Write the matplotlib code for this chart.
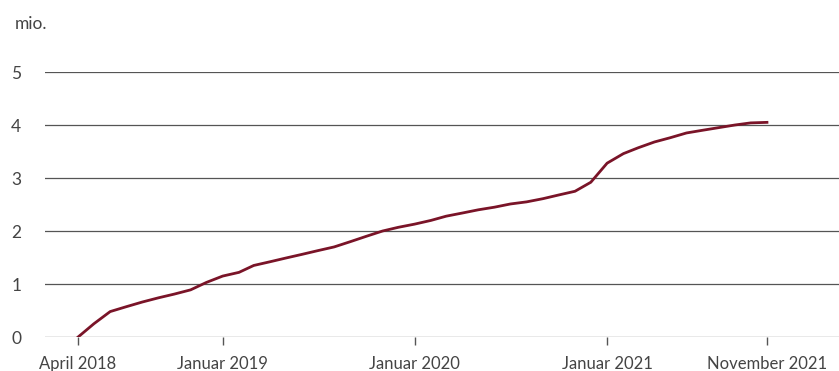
import pandas as pd
import matplotlib
matplotlib.use("Agg")
import matplotlib.pyplot as plt

# Monthly cumulative count (millions)
months = pd.date_range("2018-04-01", "2021-11-01", freq="MS")
values = [
    0.00, 0.25, 0.48, 0.57, 0.66, 0.74, 0.81, 0.89, 1.03,          # 2018
    1.15, 1.22, 1.35, 1.42, 1.49, 1.56, 1.63, 1.70, 1.80, 1.90, 2.00, 2.07,  # 2019
    2.13, 2.20, 2.28, 2.34, 2.40, 2.45, 2.51, 2.55, 2.61, 2.68, 2.75, 2.92,  # 2020
    3.28, 3.46, 3.57, 3.68, 3.76, 3.85, 3.90, 3.95, 4.00, 4.04, 4.05,        # 2021
]
tick_dates = pd.to_datetime(["2018-04-01", "2019-01-01", "2020-01-01",
                             "2021-01-01", "2021-11-01"])
tick_labels = ["April 2018", "Januar 2019", "Januar 2020",
               "Januar 2021", "November 2021"]

plt.rcParams["font.family"] = ["Lato", "DejaVu Sans"]
text_color = "#444444"

fig = plt.figure(figsize=(8.39, 3.71), dpi=100)
ax = fig.add_axes([0.0536, 0.0916, 0.9464, 0.7143])

ax.plot(months, values, color="#7a1428", linewidth=2, solid_joinstyle="round")

ax.set_ylim(0, 5)
ax.set_yticks(range(0, 6))
ax.set_xlim(pd.Timestamp("2018-01-28"), pd.Timestamp("2022-03-18"))
ax.set_xticks(tick_dates)
ax.set_xticklabels(tick_labels)

ax.grid(axis="y", color="#555555", linewidth=0.9)
ax.set_axisbelow(True)
for s in ax.spines.values():
    s.set_visible(False)

ax.tick_params(axis="y", length=0, pad=17, labelsize=12.5, labelcolor=text_color)
ax.tick_params(axis="x", length=6, width=1, color="#555555", pad=8,
               labelsize=12, labelcolor=text_color)

fig.text(0.018, 0.935, "mio.", fontsize=12.5, color=text_color, va="center")

fig.savefig("out.png", dpi=100)
